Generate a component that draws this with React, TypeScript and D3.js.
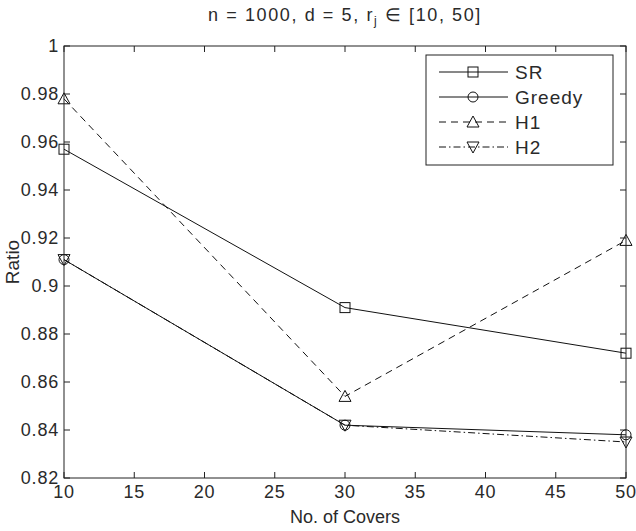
import React from "react";
import * as d3 from "d3";

const covers = [10, 30, 50];
const srValues = [0.957, 0.891, 0.872];
const greedyValues = [0.911, 0.842, 0.838];
const h1Values = [0.978, 0.854, 0.919];
const h2Values = [0.911, 0.842, 0.835];
const xTicks = [10, 15, 20, 25, 30, 35, 40, 45, 50];
const yTicks = [0.82, 0.84, 0.86, 0.88, 0.9, 0.92, 0.94, 0.96, 0.98, 1];
const seriesNames = ["SR", "Greedy", "H1", "H2"];

const W = 636, H = 531;
const M = { left: 64, right: 10, top: 46, bottom: 53 };
const FONT = "Liberation Sans, Arial, sans-serif";
const TXT = "#2a2a2a";

type Series = { name: string; values: number[]; dash: string; marker: string };

function Marker({ type, x, y }: { type: string; x: number; y: number }) {
  const s = 5;
  const common = { fill: "none", stroke: "#111", strokeWidth: 1 };
  if (type === "square") return <rect x={x - s} y={y - s} width={2 * s} height={2 * s} {...common} />;
  if (type === "circle") return <circle cx={x} cy={y} r={s} {...common} />;
  if (type === "up")
    return <path d={`M${x},${y - s - 1}L${x + s + 1},${y + s}L${x - s - 1},${y + s}Z`} {...common} />;
  return <path d={`M${x},${y + s + 1}L${x + s + 1},${y - s}L${x - s - 1},${y - s}Z`} {...common} />;
}

export default function App() {
  const x = d3.scaleLinear().domain([10, 50]).range([M.left, W - M.right]);
  const y = d3.scaleLinear().domain([0.82, 1]).range([H - M.bottom, M.top]);
  const series: Series[] = [
    { name: seriesNames[0], values: srValues, dash: "none", marker: "square" },
    { name: seriesNames[1], values: greedyValues, dash: "none", marker: "circle" },
    { name: seriesNames[2], values: h1Values, dash: "7,5", marker: "up" },
    { name: seriesNames[3], values: h2Values, dash: "7,3,1.5,3", marker: "down" },
  ];
  const line = d3
    .line<[number, number]>()
    .x((d) => x(d[0]))
    .y((d) => y(d[1]));
  const x0 = x(10), x1 = x(50), y0 = y(0.82), y1 = y(1);
  const tl = 6;
  const lg = { x: 426, y: 55, w: 187, h: 110 };
  return (
    <svg width={W} height={H} style={{ position: "absolute", left: 0, top: 0, background: "#fff" }}>
      <rect x={0} y={0} width={W} height={H} fill="#fff" />
      <text x={(x0 + x1) / 2} y={21} textAnchor="middle" fontFamily={FONT} fontSize={18} letterSpacing={1.6} fill={TXT}>
        n = 1000, d = 5, r<tspan dy={4} fontSize={12} fill={TXT}>j</tspan>
        <tspan dy={-4} fill={TXT}> ∈ [10, 50]</tspan>
      </text>
      {series.map((s) => (
        <g key={s.name}>
          <path
            d={line(covers.map((c, i) => [c, s.values[i]]) as [number, number][]) || ""}
            fill="none"
            stroke="#111"
            strokeWidth={1}
            strokeDasharray={s.dash}
          />
          {covers.map((c, i) => (
            <Marker key={i} type={s.marker} x={x(c)} y={y(s.values[i])} />
          ))}
        </g>
      ))}
      <rect x={x0} y={y1} width={x1 - x0} height={y0 - y1} fill="none" stroke="#222" strokeWidth={1} />
      {xTicks.map((t) => (
        <g key={"x" + t}>
          <line x1={x(t)} x2={x(t)} y1={y0} y2={y0 - tl} stroke="#222" />
          <line x1={x(t)} x2={x(t)} y1={y1} y2={y1 + tl} stroke="#222" />
          <text x={x(t)} y={y0 + 20} textAnchor="middle" fontFamily={FONT} fontSize={18} letterSpacing={0.8} fill={TXT}>
            {t}
          </text>
        </g>
      ))}
      {yTicks.map((t) => (
        <g key={"y" + t}>
          <line x1={x0} x2={x0 + tl} y1={y(t)} y2={y(t)} stroke="#222" />
          <line x1={x1} x2={x1 - tl} y1={y(t)} y2={y(t)} stroke="#222" />
          <text x={x0 - 5} y={y(t) + 6} textAnchor="end" fontFamily={FONT} fontSize={18} letterSpacing={0.8} fill={TXT}>
            {d3.format("~g")(t)}
          </text>
        </g>
      ))}
      <text x={(x0 + x1) / 2} y={H - 8} textAnchor="middle" fontFamily={FONT} fontSize={18} fill={TXT}>
        No. of Covers
      </text>
      <text
        transform={`translate(19,${(y0 + y1) / 2}) rotate(-90)`}
        textAnchor="middle"
        fontFamily={FONT}
        fontSize={19}
        fill={TXT}
      >
        Ratio
      </text>
      <rect x={lg.x} y={lg.y} width={lg.w} height={lg.h} fill="#fff" stroke="#222" />
      {series.map((s, i) => {
        const ly = lg.y + 17 + i * 25;
        return (
          <g key={"lg" + s.name}>
            <line x1={lg.x + 13} x2={lg.x + 82} y1={ly} y2={ly} stroke="#111" strokeDasharray={s.dash} />
            <Marker type={s.marker} x={lg.x + 47} y={ly} />
            <text x={lg.x + 89} y={ly + 7} fontFamily={FONT} fontSize={19} letterSpacing={1} fill={TXT}>
              {s.name}
            </text>
          </g>
        );
      })}
    </svg>
  );
}
